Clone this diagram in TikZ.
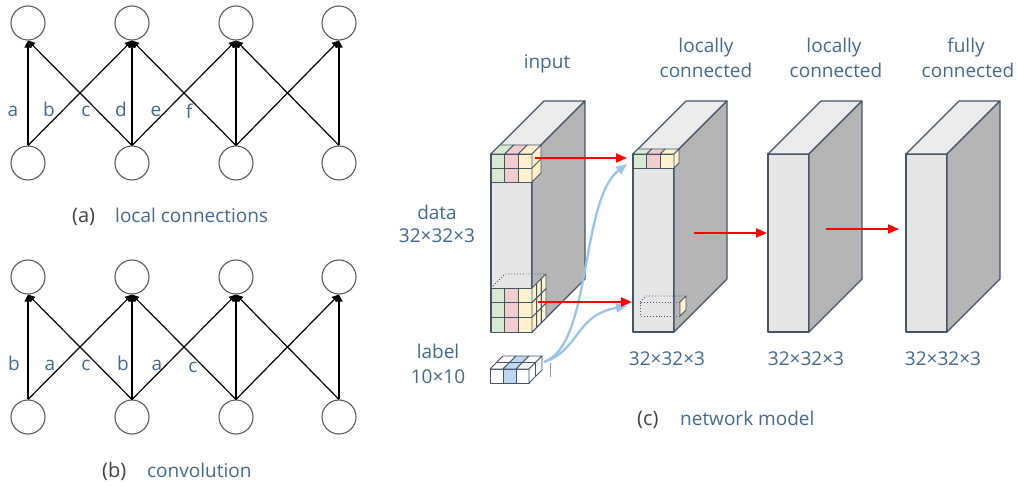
\documentclass[tikz,border=0pt]{standalone}
\usepackage{fontspec}
\setmainfont{Open Sans}
\usetikzlibrary{arrows.meta}
\definecolor{txt}{HTML}{44698F}
\definecolor{capt}{HTML}{404040}
\definecolor{ring}{HTML}{5A5A5A}
\definecolor{edge}{HTML}{46546A}
\definecolor{front}{HTML}{E6E6E6}
\definecolor{topf}{HTML}{EBEBEB}
\definecolor{side}{HTML}{B5B5B5}
\definecolor{cg}{HTML}{D9EAD3}
\definecolor{cp}{HTML}{F2CDCD}
\definecolor{cy}{HTML}{FFF2CC}
\definecolor{cb}{HTML}{BDD7EE}
\definecolor{curve}{HTML}{9DC3E6}
\definecolor{tickc}{HTML}{8497B0}
\tikzset{
  unit/.style={circle, draw=ring, line width=1.1pt, minimum size=34pt, inner sep=0pt},
  link/.style={draw=black, line width=1.2pt, -{Triangle[length=7pt,width=7pt]}},
  lab/.style={text=txt, anchor=base, inner sep=0pt, font=\fontsize{19}{23}\selectfont},
  capl/.style={text=capt, anchor=base west, inner sep=0pt, font=\fontsize{20}{24}\selectfont},
  capr/.style={text=txt, anchor=base west, inner sep=0pt, font=\fontsize{19}{23}\selectfont},
  face/.style={draw=edge, line width=1.1pt, line join=round},
  cube/.style={draw=edge, line width=0.9pt, line join=round},
  dotbox/.style={draw=edge, line width=0.9pt, dotted},
  redarr/.style={draw=red, line width=2pt, -{Triangle[length=11pt,width=9pt]}},
  bluarr/.style={draw=curve, line width=2.3pt, -{Triangle[length=11pt,width=9pt]}},
}
% one slab of the network, #1 = left x of its front face
\newcommand{\slab}[1]{%
  \filldraw[face, fill=front] (#1,154) rectangle (#1+41,332);
  \filldraw[face, fill=topf] (#1,154) -- (#1+53,101) -- (#1+94,101) -- (#1+41,154) -- cycle;
  \filldraw[face, fill=side] (#1+41,154) -- (#1+94,101) -- (#1+94,279) -- (#1+41,332) -- cycle;
}

\begin{document}
\begin{tikzpicture}[x=1pt, y=-1pt]
  \useasboundingbox (0,0) rectangle (1017,486);

  % (a) local connections
  \foreach \i/\x in {1/28,2/132,3/236,4/339} {
    \node[unit] (ta\i) at (\x,23) {};
    \node[unit] (ba\i) at (\x,163) {};
  }
  \foreach \s/\t in {1/1,1/2,2/1,2/2,2/3,3/2,3/3,3/4,4/3,4/4}
    \draw[link] (ba\s.north) -- (ta\t.south);
  \node[lab] (wa) at (13,117) {a};
  \node[lab] (wb) at (49,117) {b};
  \node[lab] (wc) at (86,117) {c};
  \node[lab] (wd) at (121,117) {d};
  \node[lab] (we) at (156,117) {e};
  \node[lab] (wf) at (189,119) {f};
  \node[capl] (capa) at (72,223) {(a)};
  \node[capr] (capat) at (115,223) {local connections};

  % (b) convolution
  \foreach \i/\x in {1/28,2/132,3/236,4/339} {
    \node[unit] (tb\i) at (\x,277) {};
    \node[unit] (bb\i) at (\x,417) {};
  }
  \foreach \s/\t in {1/1,1/2,2/1,2/2,2/3,3/2,3/3,3/4,4/3,4/4}
    \draw[link] (bb\s.north) -- (tb\t.south);
  \node[lab] (sb1) at (14,370) {b};
  \node[lab] (sa1) at (50,370) {a};
  \node[lab] (sc1) at (86,370) {c};
  \node[lab] (sb2) at (123,370) {b};
  \node[lab] (sa2) at (157,370) {a};
  \node[lab] (sc2) at (193,372) {c};
  \node[capl] (capb) at (102,477) {(b)};
  \node[capr] (capbt) at (147,477) {convolution};

  % (c) network model
  \slab{491}
  \slab{633}
  \slab{768}
  \slab{906}

  % receptive field on the input, top
  \foreach \c/\col in {0/cg,1/cp,2/cy} {
    \foreach \r in {0,1}
      \filldraw[cube, fill=\col] ({491+13.67*\c},{154+14*\r}) rectangle +(13.67,14);
    \filldraw[cube, fill=\col] ({491+13.67*\c},154) -- ++(9,-9) -- ++(13.67,0) -- ++(-9,9) -- cycle;
  }
  \filldraw[cube, fill=cy] (532,154) -- ++(9,-9) -- ++(0,28) -- ++(-9,9) -- cycle;
  \draw[cube] (532,168) -- ++(9,-9);

  % receptive field on the input, bottom
  \foreach \c/\col in {0/cg,1/cp,2/cy}
    \foreach \r in {0,1,2}
      \filldraw[cube, fill=\col] ({491+13.67*\c},{288+14.67*\r}) rectangle +(13.67,14.67);
  \foreach \r in {0,1,2}
    \foreach \k in {0,1,2}
      \filldraw[cube, fill=cy] ({532+4.67*\k},{288+14.67*\r-4.67*\k}) -- ++(4.67,-4.67) -- ++(0,14.67) -- ++(-4.67,4.67) -- cycle;
  \draw[dotbox] (491,288) -- (505,274) -- (546,274);

  % output cells on the first locally connected layer
  \foreach \c/\col in {0/cg,1/cp,2/cy} {
    \filldraw[cube, fill=\col] ({633+13.67*\c},154) rectangle +(13.67,14);
    \filldraw[cube, fill=\col] ({633+13.67*\c},154) -- ++(5,-5) -- ++(13.67,0) -- ++(-5,5) -- cycle;
  }
  \filldraw[cube, fill=cy] (674,154) -- ++(5,-5) -- ++(0,14) -- ++(-5,5) -- cycle;
  \draw[dotbox] (680,302) -- (640,302) -- (640,316) -- (680,316);
  \draw[dotbox] (640,302) -- (646,296) -- (686,296);
  \filldraw[cube, fill=cy] (680,302) -- (686,296) -- (686,310) -- (680,316) -- cycle;

  % label block
  \foreach \c/\col in {0/white,1/cb,2/white} {
    \filldraw[cube, fill=\col] ({490+13*\c},369) rectangle +(13,14);
    \foreach \k in {0,1}
      \filldraw[cube, fill=\col] ({490+13*\c+6.5*\k},{369-6.5*\k}) -- ++(6.5,-6.5) -- ++(13,0) -- ++(-6.5,6.5) -- cycle;
  }
  \foreach \k in {0,1}
    \filldraw[cube, fill=white] ({529+6.5*\k},{369-6.5*\k}) -- ++(6.5,-6.5) -- ++(0,14) -- ++(-6.5,6.5) -- cycle;
  \draw[draw=tickc, line width=1pt] (550,363) -- (550,377);

  % connectors
  \coordinate (lbl) at (544,362);
  \coordinate (inTop) at (535,158);
  \coordinate (inBot) at (538,302);
  \coordinate (lcTop) at (627,158);
  \coordinate (lcBot) at (632,302);
  \coordinate (lcIn) at (627,164);
  \coordinate (lcIn2) at (627,306);
  \coordinate (lcOut) at (694,233);
  \coordinate (lc2In) at (767,233);
  \coordinate (lc2Out) at (826,229);
  \coordinate (fcIn) at (899,229);
  \draw[bluarr] (lbl) .. controls (592,345) and (580,200) .. (lcIn);
  \draw[bluarr] (lbl) .. controls (580,350) and (575,315) .. (lcIn2);
  \draw[redarr] (inTop) -- (lcTop);
  \draw[redarr] (inBot) -- (lcBot);
  \draw[redarr] (lcOut) -- (lc2In);
  \draw[redarr] (lc2Out) -- (fcIn);

  % texts
  \node[lab] (tin) at (547,69) {input};
  \node[lab] (tl1a) at (706,53) {locally};
  \node[lab] (tl1b) at (706,78) {connected};
  \node[lab] (tl2a) at (834,53) {locally};
  \node[lab] (tl2b) at (836,78) {connected};
  \node[lab] (tfa) at (966,53) {fully};
  \node[lab] (tfb) at (968,78) {connected};
  \node[lab] (tdata) at (437,220) {data};
  \node[lab] (tdsz) at (437,243) {32×32×3};
  \node[lab] (tlab) at (438,358) {label};
  \node[lab] (tlsz) at (438,383) {10×10};
  \node[lab] (sz1) at (667,365) {32×32×3};
  \node[lab] (sz2) at (806,365) {32×32×3};
  \node[lab] (sz3) at (943,365) {32×32×3};
  \node[capl] (capc) at (637,425) {(c)};
  \node[capr] (capct) at (680,425) {network model};
\end{tikzpicture}
\end{document}
